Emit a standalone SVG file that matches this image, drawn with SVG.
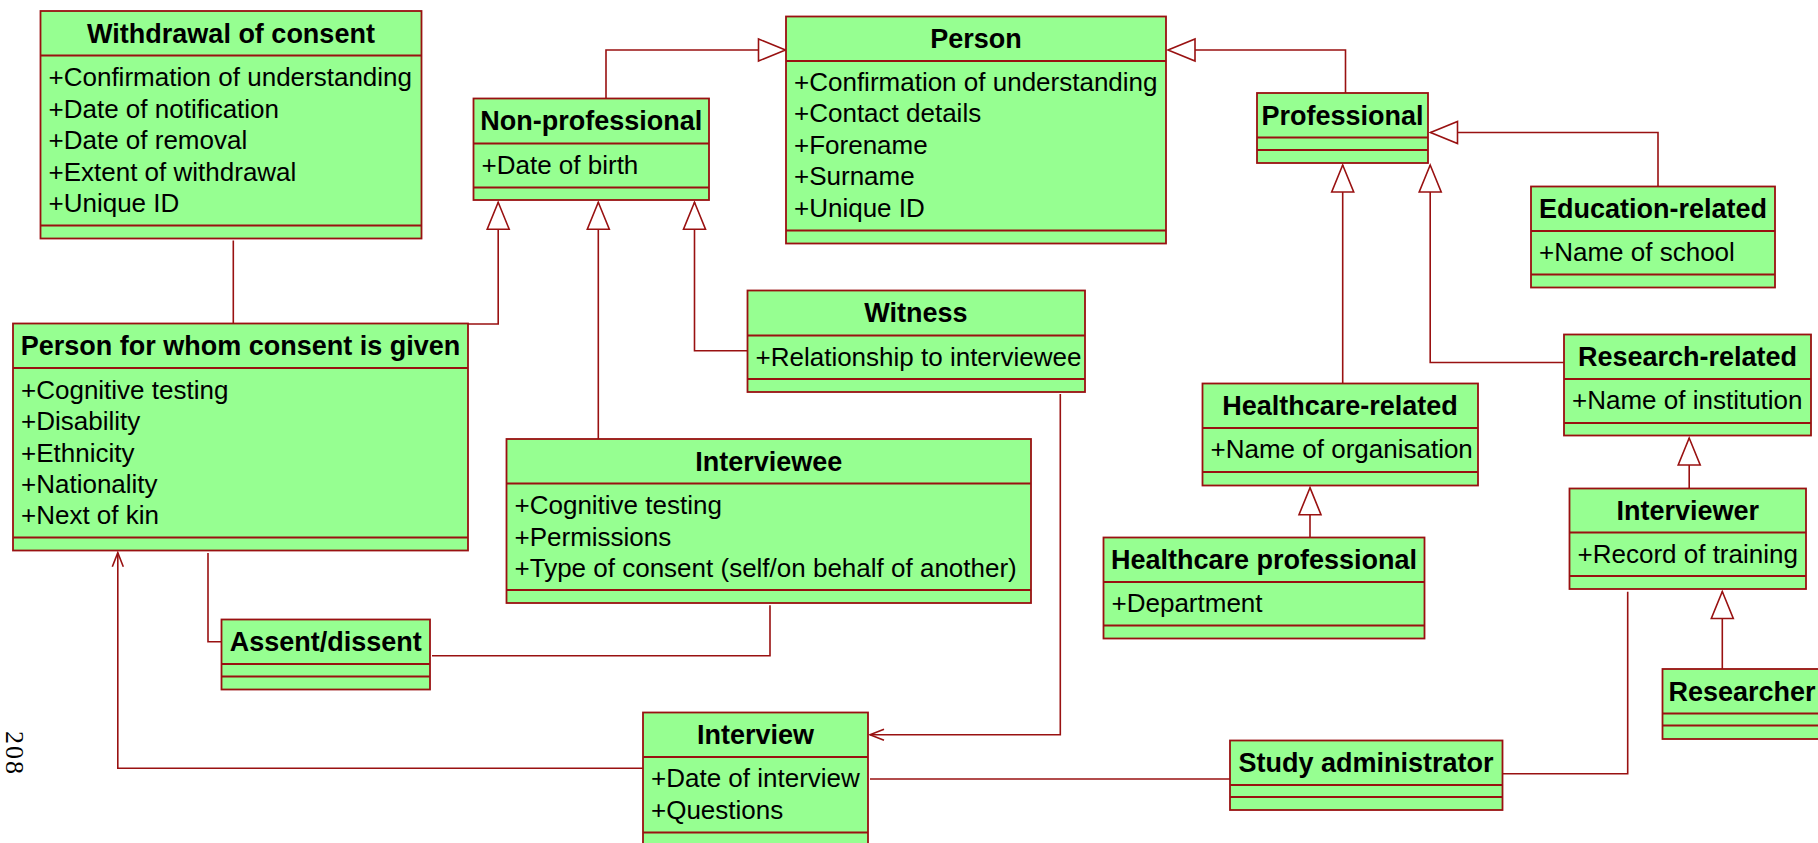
<svg xmlns="http://www.w3.org/2000/svg" width="1818" height="843" viewBox="0 0 1818 843">
  <style>
    .cls rect { fill: #96ff91; stroke: #991111; stroke-width: 1.8; }
    .cls line { stroke: #991111; stroke-width: 1.8; }
    .title { font-family: "Liberation Sans", Arial, sans-serif; font-weight: bold; font-size: 27px; fill: #000; text-anchor: middle; }
    .attr { font-family: "Liberation Sans", Arial, sans-serif; font-size: 26px; fill: #000; }
    .conn path { fill: none; stroke: #991111; stroke-width: 1.6; }
    .pageno { font-family: "Liberation Serif", "Times New Roman", serif; font-size: 26px; letter-spacing: 2px; fill: #000; }
  </style>
  <defs>
    <!-- hollow triangle for generalisation -->
    <marker id="gen" markerUnits="userSpaceOnUse" markerWidth="40" markerHeight="40" refX="0" refY="0" orient="auto" overflow="visible">
      <path d="M0,0 L-27,-11 L-27,11 Z" fill="#ffffff" stroke="#991111" stroke-width="1.6"/>
    </marker>
    <!-- open arrowhead for navigable association -->
    <marker id="nav" markerUnits="userSpaceOnUse" markerWidth="30" markerHeight="30" refX="0" refY="0" orient="auto" overflow="visible">
      <path d="M-14,-5.5 L0,0 L-14,5.5" fill="none" stroke="#991111" stroke-width="1.6"/>
    </marker>
  </defs>

  <rect x="0" y="0" width="1818" height="843" fill="#ffffff"/>

  <!-- connectors -->
  <g id="connectors" class="conn">
    <!-- generalisations -->
    <path d="M606,98.5 V50 H785.5" marker-end="url(#gen)"/>
    <path d="M1345.5,93 V50 H1168" marker-end="url(#gen)"/>
    <path d="M1658,186.5 V132.5 H1430.5" marker-end="url(#gen)"/>
    <path d="M1342.7,383.5 V165" marker-end="url(#gen)"/>
    <path d="M1564,362.5 H1430.2 V165" marker-end="url(#gen)"/>
    <path d="M1310,537.5 V487.7" marker-end="url(#gen)"/>
    <path d="M1689.2,488.5 V438" marker-end="url(#gen)"/>
    <path d="M1722.3,669 V591.5" marker-end="url(#gen)"/>
    <path d="M468,324 H498.2 V202.3" marker-end="url(#gen)"/>
    <path d="M598.3,439 V202.3" marker-end="url(#gen)"/>
    <path d="M747.5,350.7 H694.5 V202.3" marker-end="url(#gen)"/>
    <!-- associations -->
    <path d="M233.3,240.5 V323.5"/>
    <path d="M208,553 V641.7 H221.5"/>
    <path d="M432,655.7 H770 V605.3"/>
    <path d="M643,768.3 H117.8 V552.7" marker-end="url(#nav)"/>
    <path d="M1060.3,394 V734.7 H870" marker-end="url(#nav)"/>
    <path d="M870,779 H1230"/>
    <path d="M1502.5,773.7 H1627.7 V591.7"/>
  </g>

  <g id="withdrawal" class="cls">
    <rect x="40.5" y="11" width="381" height="227.5"/>
    <line x1="40.5" y1="55.5" x2="421.5" y2="55.5"/>
    <line x1="40.5" y1="225.5" x2="421.5" y2="225.5"/>
    <text class="title" x="231" y="42.5">Withdrawal of consent</text>
    <text class="attr" x="48.5" y="86">+Confirmation of understanding</text>
    <text class="attr" x="48.5" y="117.5">+Date of notification</text>
    <text class="attr" x="48.5" y="149">+Date of removal</text>
    <text class="attr" x="48.5" y="180.5">+Extent of withdrawal</text>
    <text class="attr" x="48.5" y="212">+Unique ID</text>
  </g>

  <g id="non-professional" class="cls">
    <rect x="473.5" y="98.5" width="235.5" height="101.5"/>
    <line x1="473.5" y1="143.5" x2="709" y2="143.5"/>
    <line x1="473.5" y1="187.5" x2="709" y2="187.5"/>
    <text class="title" x="591.3" y="130">Non-professional</text>
    <text class="attr" x="481.5" y="173.5">+Date of birth</text>
  </g>

  <g id="person" class="cls">
    <rect x="786" y="16.5" width="380" height="227"/>
    <line x1="786" y1="61" x2="1166" y2="61"/>
    <line x1="786" y1="230.5" x2="1166" y2="230.5"/>
    <text class="title" x="976" y="48">Person</text>
    <text class="attr" x="794" y="91">+Confirmation of understanding</text>
    <text class="attr" x="794" y="122">+Contact details</text>
    <text class="attr" x="794" y="153.5">+Forename</text>
    <text class="attr" x="794" y="185">+Surname</text>
    <text class="attr" x="794" y="216.5">+Unique ID</text>
  </g>

  <g id="professional" class="cls">
    <rect x="1257" y="93" width="171" height="70"/>
    <line x1="1257" y1="137.5" x2="1428" y2="137.5"/>
    <line x1="1257" y1="150" x2="1428" y2="150"/>
    <text class="title" x="1342.5" y="124.5">Professional</text>
  </g>

  <g id="education-related" class="cls">
    <rect x="1531" y="186.5" width="244" height="101"/>
    <line x1="1531" y1="231" x2="1775" y2="231"/>
    <line x1="1531" y1="274.5" x2="1775" y2="274.5"/>
    <text class="title" x="1653" y="218">Education-related</text>
    <text class="attr" x="1539" y="261">+Name of school</text>
  </g>

  <g id="person-for-whom-consent" class="cls">
    <rect x="13" y="323.5" width="455" height="227"/>
    <line x1="13" y1="368" x2="468" y2="368"/>
    <line x1="13" y1="537.5" x2="468" y2="537.5"/>
    <text class="title" x="240.5" y="355">Person for whom consent is given</text>
    <text class="attr" x="21" y="398.5">+Cognitive testing</text>
    <text class="attr" x="21" y="430">+Disability</text>
    <text class="attr" x="21" y="461.5">+Ethnicity</text>
    <text class="attr" x="21" y="492.5">+Nationality</text>
    <text class="attr" x="21" y="524">+Next of kin</text>
  </g>

  <g id="witness" class="cls">
    <rect x="747.5" y="290.5" width="337.5" height="101.5"/>
    <line x1="747.5" y1="335.5" x2="1085" y2="335.5"/>
    <line x1="747.5" y1="379" x2="1085" y2="379"/>
    <text class="title" x="916" y="322">Witness</text>
    <text class="attr" x="755.5" y="365.5">+Relationship to interviewee</text>
  </g>

  <g id="interviewee" class="cls">
    <rect x="506.5" y="439" width="524.5" height="164"/>
    <line x1="506.5" y1="483.5" x2="1031" y2="483.5"/>
    <line x1="506.5" y1="590" x2="1031" y2="590"/>
    <text class="title" x="768.7" y="470.5">Interviewee</text>
    <text class="attr" x="514.5" y="514">+Cognitive testing</text>
    <text class="attr" x="514.5" y="545.5">+Permissions</text>
    <text class="attr" x="514.5" y="577">+Type of consent (self/on behalf of another)</text>
  </g>

  <g id="healthcare-related" class="cls">
    <rect x="1202.5" y="383.5" width="275.5" height="102"/>
    <line x1="1202.5" y1="428" x2="1478" y2="428"/>
    <line x1="1202.5" y1="472" x2="1478" y2="472"/>
    <text class="title" x="1340" y="415">Healthcare-related</text>
    <text class="attr" x="1210.5" y="458">+Name of organisation</text>
  </g>

  <g id="research-related" class="cls">
    <rect x="1564" y="334.5" width="247" height="101"/>
    <line x1="1564" y1="379" x2="1811" y2="379"/>
    <line x1="1564" y1="423" x2="1811" y2="423"/>
    <text class="title" x="1687.5" y="366">Research-related</text>
    <text class="attr" x="1572" y="409">+Name of institution</text>
  </g>

  <g id="interviewer" class="cls">
    <rect x="1569.5" y="488.5" width="236.5" height="100.5"/>
    <line x1="1569.5" y1="532.5" x2="1806" y2="532.5"/>
    <line x1="1569.5" y1="576" x2="1806" y2="576"/>
    <text class="title" x="1687.7" y="520">Interviewer</text>
    <text class="attr" x="1577.5" y="562.5">+Record of training</text>
  </g>

  <g id="healthcare-professional" class="cls">
    <rect x="1103.5" y="537.5" width="321" height="101"/>
    <line x1="1103.5" y1="582" x2="1424.5" y2="582"/>
    <line x1="1103.5" y1="625.5" x2="1424.5" y2="625.5"/>
    <text class="title" x="1264" y="569">Healthcare professional</text>
    <text class="attr" x="1111.5" y="612">+Department</text>
  </g>

  <g id="assent-dissent" class="cls">
    <rect x="221.5" y="619.5" width="208.5" height="70"/>
    <line x1="221.5" y1="664" x2="430" y2="664"/>
    <line x1="221.5" y1="676.5" x2="430" y2="676.5"/>
    <text class="title" x="325.7" y="651">Assent/dissent</text>
  </g>

  <g id="interview" class="cls">
    <rect x="643" y="712.5" width="225" height="134"/>
    <line x1="643" y1="757" x2="868" y2="757"/>
    <line x1="643" y1="832.5" x2="868" y2="832.5"/>
    <text class="title" x="755.5" y="744">Interview</text>
    <text class="attr" x="651" y="787">+Date of interview</text>
    <text class="attr" x="651" y="818.5">+Questions</text>
  </g>

  <g id="study-administrator" class="cls">
    <rect x="1230" y="740.5" width="272.5" height="69.5"/>
    <line x1="1230" y1="785" x2="1502.5" y2="785"/>
    <line x1="1230" y1="797" x2="1502.5" y2="797"/>
    <text class="title" x="1366" y="772">Study administrator</text>
  </g>

  <g id="researcher" class="cls">
    <rect x="1662.5" y="669" width="158" height="70"/>
    <line x1="1662.5" y1="713.5" x2="1820.5" y2="713.5"/>
    <line x1="1662.5" y1="725.5" x2="1820.5" y2="725.5"/>
    <text class="title" x="1742" y="700.5">Researcher</text>
  </g>

  <!-- page number printed sideways at the margin -->
  <text class="pageno" transform="translate(6,731) rotate(90)">208</text>
</svg>
